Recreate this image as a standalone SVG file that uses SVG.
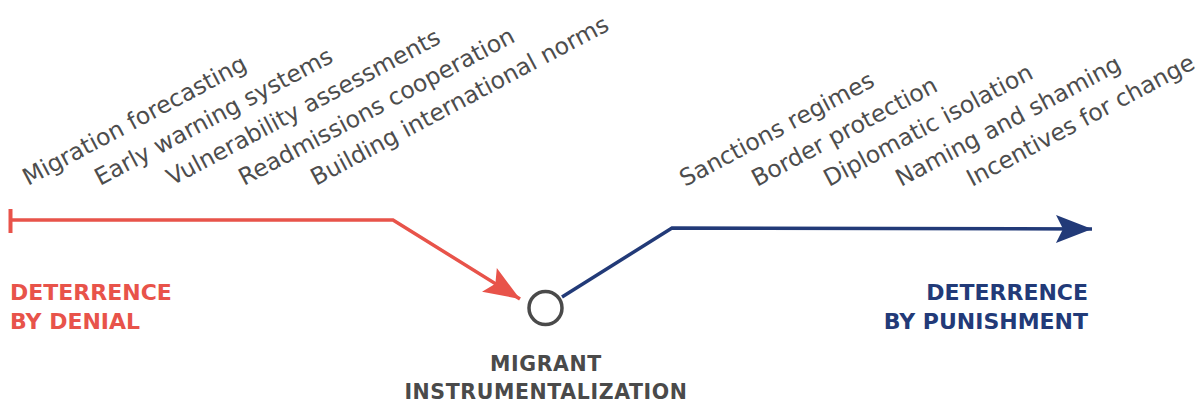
<svg xmlns="http://www.w3.org/2000/svg" width="1204" height="407" viewBox="0 0 1204 407">
<style>
.item{font-family:"DejaVu Sans",sans-serif;font-size:23.5px;fill:#4d4d4d}
.lbl{font-family:"DejaVu Sans",sans-serif;font-weight:bold;font-size:22px}
.red{fill:#e8534a}
.blue{fill:#223a78}
.gray{fill:#4a4a4a}
</style>
<defs>
<marker id="arrRed" markerUnits="userSpaceOnUse" markerWidth="40" markerHeight="32" viewBox="-38 -16 40 32" refX="0" refY="0" orient="auto">
<path d="M0,0 L-36,-14 L-29,0 L-36,14 Z" fill="#e8534a"/>
</marker>
<marker id="arrBlue" markerUnits="userSpaceOnUse" markerWidth="40" markerHeight="32" viewBox="-38 -16 40 32" refX="0" refY="0" orient="auto">
<path d="M0,0 L-36,-14 L-29,0 L-36,14 Z" fill="#223a78"/>
</marker>
</defs>
<rect width="1204" height="407" fill="#ffffff"/>
<g id="connectors">
<line x1="10.5" y1="209" x2="10.5" y2="233" stroke="#e8534a" stroke-width="4"/>
<path d="M10,220 H393 L520,299" fill="none" stroke="#e8534a" stroke-width="3.5" stroke-linejoin="miter" marker-end="url(#arrRed)"/>
<path d="M562,297 L672,228 L1092,229" fill="none" stroke="#223a78" stroke-width="3.5" marker-end="url(#arrBlue)"/>
</g>
<g id="node-denial">
<text class="lbl red" x="10" y="300">DETERRENCE</text>
<text class="lbl red" x="10" y="329">BY DENIAL</text>
</g>
<g id="node-punishment">
<text class="lbl blue" x="1088" y="300" text-anchor="end">DETERRENCE</text>
<text class="lbl blue" x="1088" y="329" text-anchor="end">BY PUNISHMENT</text>
</g>
<g id="node-instrumentalization">
<circle cx="545.5" cy="308" r="16.5" fill="#ffffff" stroke="#4a4a4a" stroke-width="3.5"/>
<text class="lbl gray" x="546" y="371" text-anchor="middle" style="font-size:20.5px;letter-spacing:0.6px">MIGRANT</text>
<text class="lbl gray" x="546" y="399" text-anchor="middle" style="font-size:20.5px;letter-spacing:0.6px">INSTRUMENTALIZATION</text>
</g>
<g id="denial-measures">
<text class="item" transform="translate(28,186) rotate(-28)">Migration forecasting</text>
<text class="item" transform="translate(100,186) rotate(-28)">Early warning systems</text>
<text class="item" transform="translate(172,186) rotate(-28)">Vulnerability assessments</text>
<text class="item" transform="translate(244,186) rotate(-28)">Readmissions cooperation</text>
<text class="item" transform="translate(316,186) rotate(-28)">Building international norms</text>
</g>
<g id="punishment-measures">
<text class="item" transform="translate(685,187) rotate(-28)">Sanctions regimes</text>
<text class="item" transform="translate(757,187) rotate(-28)">Border protection</text>
<text class="item" transform="translate(829,187) rotate(-28)">Diplomatic isolation</text>
<text class="item" transform="translate(901,187) rotate(-28)">Naming and shaming</text>
<text class="item" transform="translate(972,187) rotate(-28)">Incentives for change</text>
</g>
</svg>
